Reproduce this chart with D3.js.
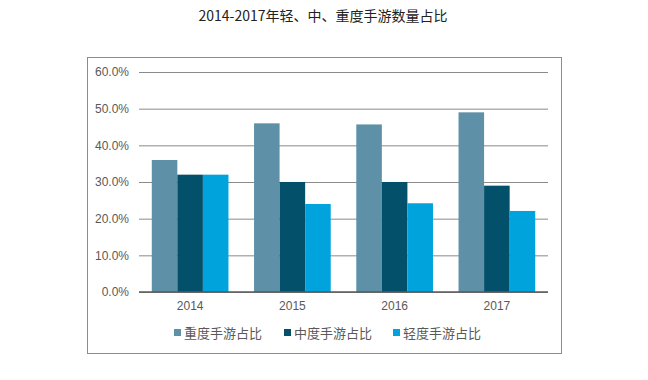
<!DOCTYPE html>
<html>
<head>
<meta charset="utf-8">
<script src="https://cdn.jsdelivr.net/npm/d3@7"></script>
<style>
  body { margin: 0; background: #fff; }
  svg { display: block; }
</style>
</head>
<body>
<div id="main"></div>
<script>
const WIDTH = 648;
const HEIGHT = 380;

// data
const years = ['2014', '2015', '2016', '2017'];
const seriesNames = ['重度手游占比', '中度手游占比', '轻度手游占比'];
const heavy = [36, 46, 45.7, 49];
const medium = [32, 30, 30, 29];
const light = [32, 24, 24.2, 22.1];
const yTicks = [0, 10, 20, 30, 40, 50, 60];
const colors = ['#5e91a8', '#03506b', '#00a3dc'];

const PLOT = { left: 139, right: 548, top: 72, bottom: 292 };

const svg = d3.select('#main')
  .append('svg')
  .attr('width', WIDTH)
  .attr('height', HEIGHT)
  .attr('viewBox', [0, 0, WIDTH, HEIGHT]);

// title
svg.append('text')
  .attr('x', 323)
  .attr('y', 21)
  .attr('text-anchor', 'middle')
  .attr('font-family', '"Noto Sans CJK SC", sans-serif')
  .attr('font-size', 14)
  .attr('fill', '#222')
  .text('2014-2017年轻、中、重度手游数量占比');

// frame
svg.append('rect')
  .attr('x', 87.5)
  .attr('y', 57.5)
  .attr('width', 474)
  .attr('height', 296)
  .attr('fill', 'none')
  .attr('stroke', '#8c8c8c')
  .attr('stroke-width', 1);

const x0 = d3.scaleBand().domain(years).range([PLOT.left, PLOT.right]).paddingInner(0.25).paddingOuter(0.125);
const x1 = d3.scaleBand().domain(seriesNames).range([0, x0.bandwidth()]);
const y = d3.scaleLinear().domain([0, 60]).range([PLOT.bottom, PLOT.top]);

// grid
const grid = svg.append('g')
  .attr('transform', `translate(${PLOT.left},0)`)
  .call(d3.axisLeft(y).tickValues(yTicks).tickSize(-(PLOT.right - PLOT.left)).tickFormat(d => d.toFixed(1) + '%'));
grid.select('.domain').remove();
grid.selectAll('line').attr('stroke', '#8a8a8a').attr('stroke-width', 1);
grid.selectAll('text')
  .attr('x', -10)
  .attr('fill', '#595959')
  .attr('font-family', '"Liberation Sans", Arial, sans-serif')
  .attr('font-size', 12);

// bars
const rows = years.map((yr, i) => ({ year: yr, values: [heavy[i], medium[i], light[i]] }));
svg.append('g')
  .selectAll('g')
  .data(rows)
  .join('g')
  .attr('transform', d => `translate(${x0(d.year)},0)`)
  .selectAll('rect')
  .data(d => d.values.map((v, j) => ({ name: seriesNames[j], value: v, j })))
  .join('rect')
  .attr('x', d => x1(d.name))
  .attr('y', d => y(d.value))
  .attr('width', x1.bandwidth())
  .attr('height', d => y(0) - y(d.value))
  .attr('fill', d => colors[d.j]);

// x axis
const xAxis = svg.append('g')
  .attr('transform', `translate(0,${PLOT.bottom})`)
  .call(d3.axisBottom(x0).tickSize(0).tickPadding(9));
xAxis.select('.domain').attr('stroke', '#595959').attr('stroke-width', 1.5)
  .attr('d', `M${PLOT.left},0H${PLOT.right}`);
xAxis.selectAll('text')
  .attr('fill', '#595959')
  .attr('font-family', '"Liberation Sans", Arial, sans-serif')
  .attr('font-size', 12);

// legend
const legendX = [174, 284, 393];
const legend = svg.append('g')
  .selectAll('g')
  .data(seriesNames)
  .join('g')
  .attr('transform', (d, i) => `translate(${legendX[i]},333)`);
legend.append('rect')
  .attr('x', 0).attr('y', -4)
  .attr('width', 7).attr('height', 7)
  .attr('fill', (d, i) => colors[i]);
legend.append('text')
  .attr('x', 10)
  .attr('y', 0)
  .attr('dy', '0.35em')
  .attr('fill', '#595959')
  .attr('font-family', '"Noto Sans CJK SC", sans-serif')
  .attr('font-size', 13)
  .text(d => d);
</script>
</body>
</html>
